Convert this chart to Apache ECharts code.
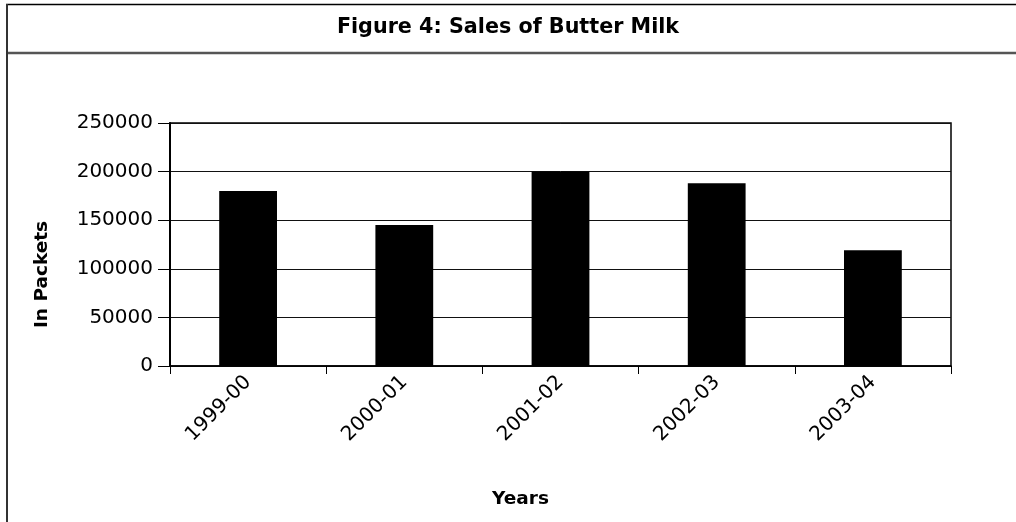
<!DOCTYPE html>
<html>
<head>
<meta charset="utf-8">
<script src="https://cdn.jsdelivr.net/npm/echarts@6/dist/echarts.min.js"></script>
<style>
  html, body { margin: 0; padding: 0; background: #fff; }
  #chart { width: 1016px; height: 522px; }
</style>
</head>
<body>
<div id="chart"></div>
<script>
// Butter milk sales, packets per year
const years = ['1999-00', '2000-01', '2001-02', '2002-03', '2003-04'];
const packets = [180000, 145000, 200000, 188000, 119000];
const yTicks = { min: 0, max: 250000, step: 50000 };

const FONT = '"DejaVu Sans", "Noto Sans", sans-serif';

const chart = echarts.init(document.getElementById('chart'), null, { renderer: 'canvas' });

chart.setOption({
  animation: false,
  backgroundColor: '#fff',
  title: {
    text: 'Figure 4: Sales of Butter Milk',
    left: 'center',
    top: 12,
    textStyle: { fontFamily: FONT, fontWeight: 'bold', fontSize: 20.7, color: '#000' }
  },
  graphic: [
    // frame edges and the rule under the heading
    { type: 'line', shape: { x1: 6, y1: 4.5, x2: 1016, y2: 4.5 },
      style: { stroke: '#000', lineWidth: 1.5 }, silent: true },
    { type: 'line', shape: { x1: 7, y1: 4, x2: 7, y2: 522 },
      style: { stroke: '#333', lineWidth: 2 }, silent: true },
    { type: 'line', shape: { x1: 8, y1: 53, x2: 1016, y2: 53 },
      style: { stroke: '#555', lineWidth: 2.5 }, silent: true }
  ],
  grid: {
    left: 170, right: 65, top: 123, bottom: 156,
    show: true, borderColor: '#000', borderWidth: 1.5, backgroundColor: 'transparent'
  },
  xAxis: {
    type: 'category',
    data: years,
    name: 'Years',
    nameLocation: 'middle',
    nameGap: 124,
    nameTextStyle: { fontFamily: FONT, fontWeight: 'bold', fontSize: 18.5, color: '#000', padding: [0, 80, 0, 0] },
    axisLine: { lineStyle: { color: '#000', width: 1.5 } },
    axisTick: { show: true, length: 8, lineStyle: { color: '#000' } },
    axisLabel: { rotate: 45, fontFamily: FONT, fontSize: 20, color: '#000', margin: 13 }
  },
  yAxis: {
    type: 'value',
    min: yTicks.min,
    max: yTicks.max,
    interval: yTicks.step,
    name: 'In Packets',
    nameLocation: 'middle',
    nameGap: 118,
    nameRotate: 90,
    nameTextStyle: { fontFamily: FONT, fontWeight: 'bold', fontSize: 18.5, color: '#000', padding: [0, 60, 0, 0] },
    axisLine: { show: true, lineStyle: { color: '#000', width: 2 } },
    axisTick: { show: true, length: 12, lineStyle: { color: '#000' } },
    axisLabel: { fontFamily: FONT, fontSize: 20, color: '#000', margin: 17, formatter: v => String(v) },
    splitLine: { show: true, lineStyle: { color: '#111', width: 1 } }
  },
  series: [{
    type: 'bar',
    data: packets,
    barWidth: '37%',
    itemStyle: { color: '#000' }
  }]
});
</script>
</body>
</html>
